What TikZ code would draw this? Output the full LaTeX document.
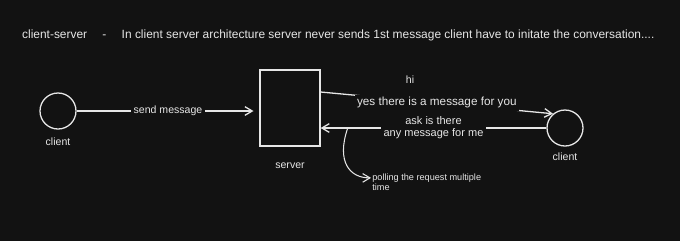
\documentclass[tikz,border=0pt]{standalone}
\usepackage{fontspec}
\setmainfont{Liberation Sans}
\usetikzlibrary{arrows.meta, positioning}

\definecolor{canvas}{HTML}{121212}
\definecolor{ink}{HTML}{E6E6E6}

\begin{document}
\begin{tikzpicture}[
    x=0.03cm, y=-0.03cm,
    font=\fontsize{9}{11}\selectfont,
    every node/.style = {text=ink},
    actor/.style = {circle, draw=ink, line width=1.1pt, minimum size=1.08cm, inner sep=0pt},
    serverbox/.style = {rectangle, draw=ink, line width=1.1pt, minimum width=1.8cm, minimum height=2.28cm, inner sep=0pt},
    tag/.style = {fill=canvas, inner sep=2pt},
    line/.style = {draw=ink, line width=1.1pt, -{Straight Barb[length=2.2mm, width=2.6mm]}},
    plain_line/.style = {draw=ink, line width=1.1pt}
]

% Background
\fill[canvas] (0,0) rectangle (680,241);
\useasboundingbox (0,0) rectangle (680,241);

% Title
\node [anchor=west, font=\fontsize{10.2}{12}\selectfont] (title) at (18,35) {client-server\quad\ -\quad\ In client server architecture server never sends 1st message client have to initate the conversation....};

% Nodes
\node [actor] (client_a) at (58,111) {};
\node [below=3.5pt of client_a] (client_a_lbl) {client};

\node [serverbox] (server) at (290,108) {};
\node [below=10pt of server] (server_lbl) {server};

\node [actor] (client_b) at (565,128) {};
\node [below=1.5pt of client_b] (client_b_lbl) {client};

\node (hi) at (410,80) {hi};

\node [anchor=north west, align=left, inner sep=1pt, font=\fontsize{7.8}{9}\selectfont] (poll_note) at (371,172) {polling the request multiple\\time};

% Edges
\path [line, shorten >=5pt] (client_a.east) -- node [tag] {send message} (server.west |- client_a.east);
\path [line] (server.east |- 0,92) -- node [tag, pos=0.5, font=\fontsize{10}{12}\selectfont] {yes there is a message for you} (client_b.130);
\path [line] (client_b.west) -- coordinate [pos=0.88] (poll_start) node [tag, align=center, pos=0.5, font=\fontsize{9.4}{10}\selectfont] {ask is there\\any message for me} (server.east |- client_b.west);

% Polling
\path [line, line width=0.9pt] (poll_start) .. controls (336,162) and (350,178) .. ([yshift=-5pt]poll_note.north west);

\end{tikzpicture}
\end{document}
